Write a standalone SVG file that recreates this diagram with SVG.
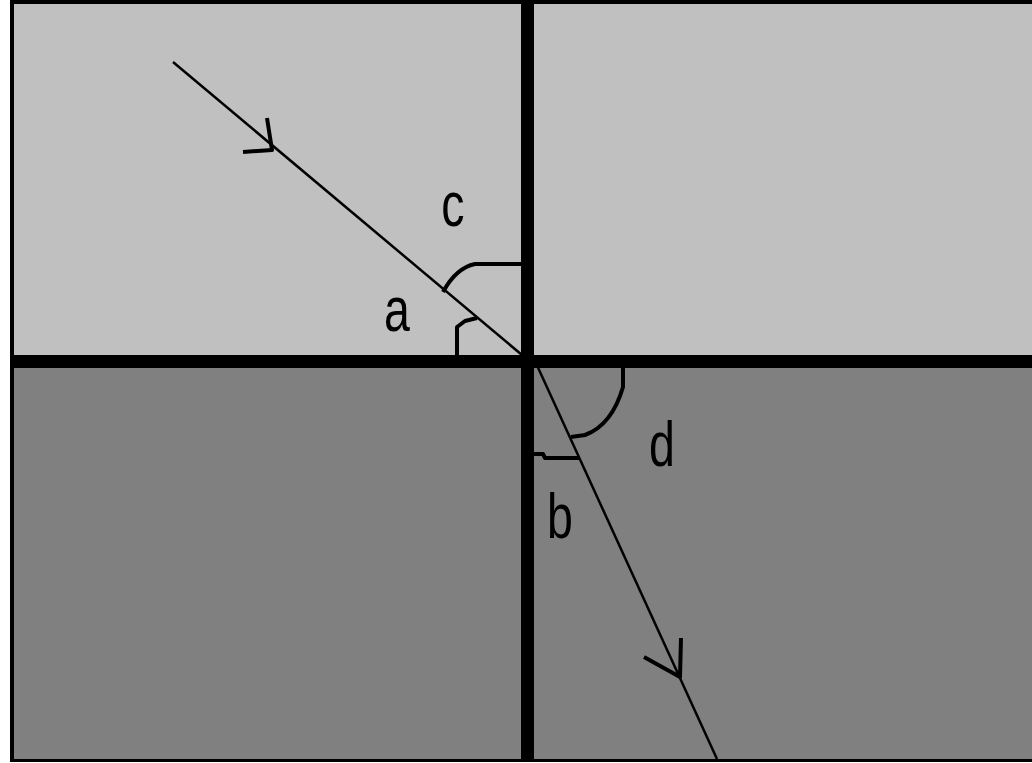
<svg xmlns="http://www.w3.org/2000/svg" width="1032" height="763" viewBox="0 0 1032 763">
<style>
.ray{stroke:#000;stroke-width:2.5;fill:none}
.arc{stroke:#000;stroke-width:4;fill:none;stroke-linejoin:round}
.lbl{font-family:"Liberation Sans",Arial,sans-serif;font-size:62px;fill:#000;text-anchor:middle}
</style>
<rect width="1032" height="763" fill="#fff"/>
<g id="media" shape-rendering="crispEdges">
<rect x="14" y="4" width="1018" height="351" fill="#c0c0c0"/>
<rect x="14" y="368" width="1018" height="391" fill="#808080"/>
<rect x="10" y="0" width="4" height="762" fill="#000"/>
<rect x="10" y="0" width="1022" height="4" fill="#000"/>
<rect x="10" y="759" width="1022" height="3" fill="#000"/>
<rect x="10" y="355" width="1022" height="13" fill="#000"/>
<rect x="521" y="0" width="13" height="762" fill="#000"/>
</g>
<g id="connectors">
<line class="ray" x1="173" y1="62" x2="522" y2="355"/>
<line class="ray" x1="535" y1="361" x2="717" y2="759"/>
<polyline class="arc" points="267,118 272,150 243,152"/>
<polyline class="arc" points="644,657 680,677 681,638"/>
</g>
<g id="angle-c"><path class="arc" d="M521,264 L475,264 Q456,268 443,292"/><text class="lbl" transform="translate(453,226) scale(0.75,1)">c</text></g>
<g id="angle-a"><path class="arc" d="M457,355 L457,327 L465,321 L477,318"/><text class="lbl" transform="translate(397,331) scale(0.75,1)">a</text></g>
<g id="angle-d"><path class="arc" d="M623,368 L623,387 Q612,425 585,435 L571,437"/><text class="lbl" transform="translate(662,466) scale(0.75,1)">d</text></g>
<g id="angle-b"><path class="arc" d="M534,454 L543,454 L545,458 L580,458"/><text class="lbl" transform="translate(560,538) scale(0.75,1)">b</text></g>
</svg>
